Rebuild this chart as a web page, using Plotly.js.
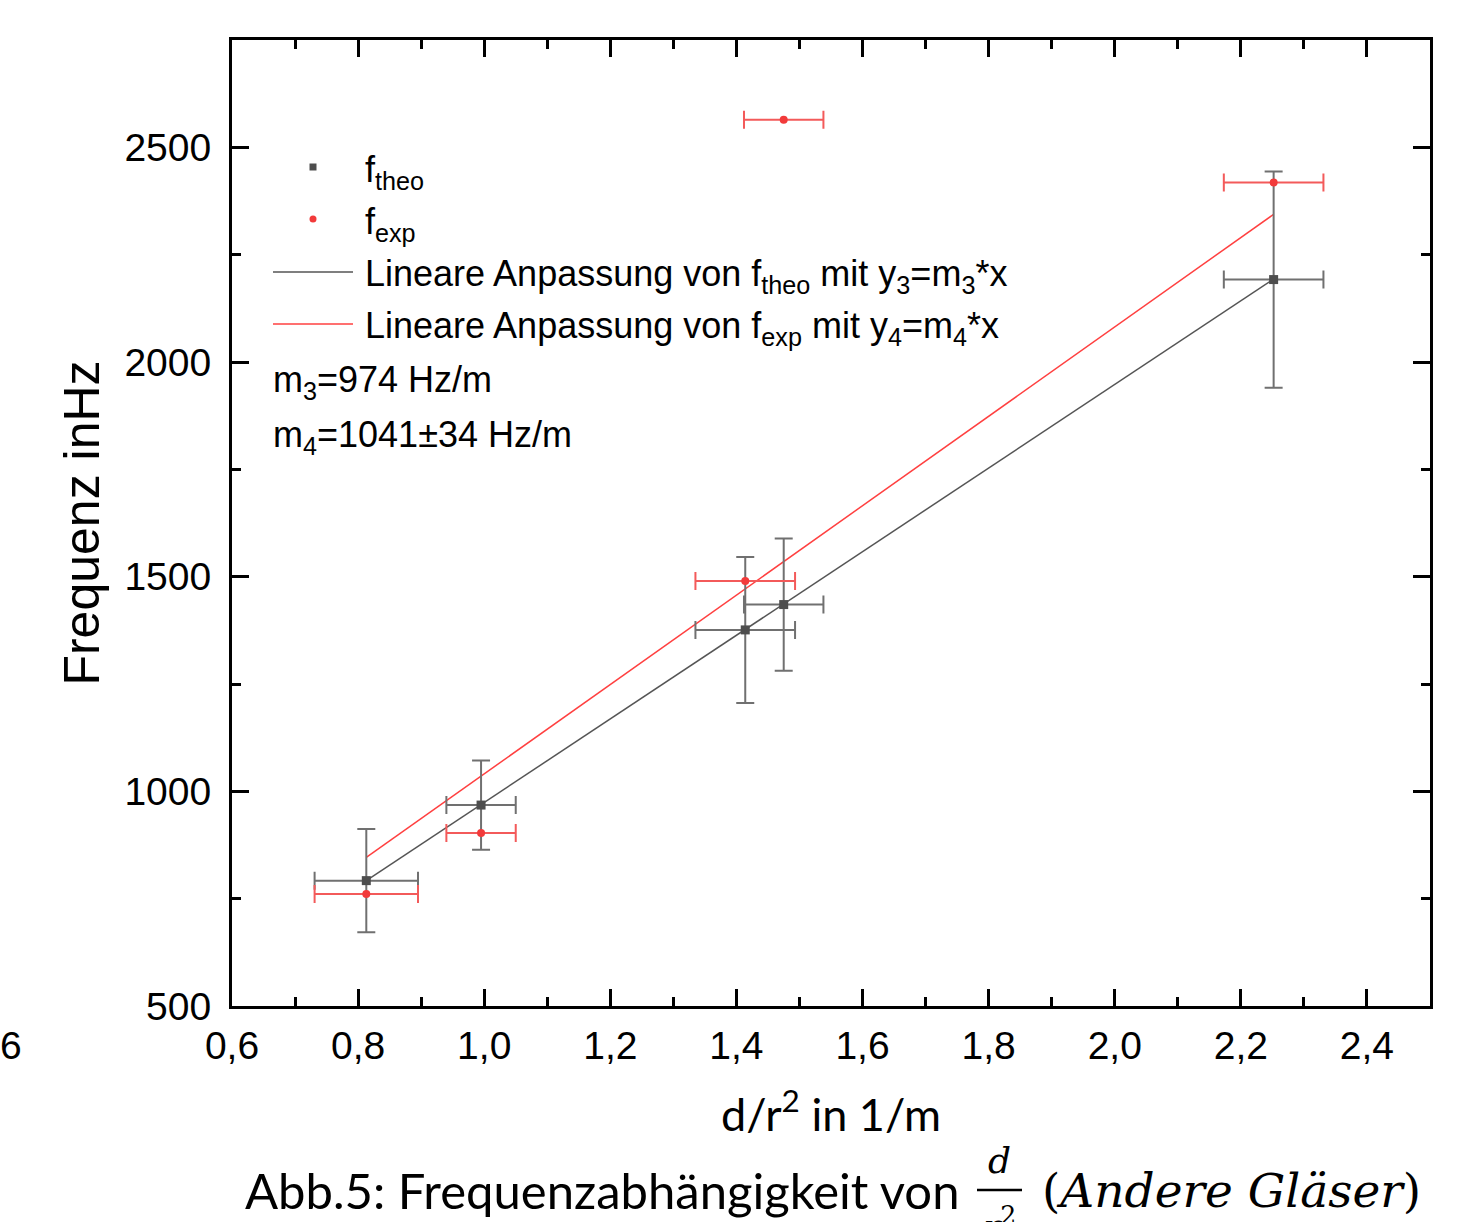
<!DOCTYPE html>
<html>
<head>
<meta charset="utf-8">
<script src="https://cdn.plot.ly/plotly-3.0.1.min.js"></script>
<style>html,body{margin:0;padding:0;background:#fff;}#chart{width:1480px;height:1222px;}</style>
</head>
<body>
<div id="chart"></div>
<script>
// ---- data ----
const xVals      = [0.813, 0.995, 1.414, 1.475, 2.252];
const xErr       = [0.082, 0.055, 0.079, 0.063, 0.079];
const fTheo      = [792, 968, 1376, 1435, 2192];
const fTheoErr   = [120, 104, 170, 154, 252];
const fExp       = [761, 903, 1490, 2564, 2418];
const fitX       = [0.813, 2.252];
const fitTheoY   = [792, 2193];
const fitExpY    = [846, 2344];
const xTickVals  = [0.6, 0.8, 1.0, 1.2, 1.4, 1.6, 1.8, 2.0, 2.2, 2.4];
const yTickVals  = [500, 1000, 1500, 2000, 2500];

// ---- pixel helpers for layout decoration ----
const L = 232, R = 1430, T = 40, B = 1006;
const px = p => (p - L) / (R - L);
const py = p => (B - p) / (B - T);

const GRAY = '#4d4d4d', GRAYERR = '#707070', RED = '#f23a3a', REDERR = '#f35a5a';
const SANS = 'Liberation Sans, Arial, sans-serif';
const CAL = 'Lato, sans-serif';
const SERIF = 'DejaVu Serif, serif';

const traces = [
  {x: fitX, y: fitTheoY, mode: 'lines', line: {color: '#555555', width: 1.5}, showlegend: false, hoverinfo: 'skip'},
  {x: fitX, y: fitExpY, mode: 'lines', line: {color: '#ff4040', width: 1.5}, showlegend: false, hoverinfo: 'skip'},
  {x: xVals, y: fTheo, mode: 'markers', marker: {symbol: 'square', size: 9, color: GRAY},
   error_y: {type: 'data', array: fTheoErr, visible: true, color: GRAYERR, thickness: 2, width: 9},
   error_x: {type: 'data', array: xErr, visible: true, color: GRAYERR, thickness: 2, width: 9},
   showlegend: false},
  {x: xVals, y: fExp, mode: 'markers', marker: {symbol: 'circle', size: 8, color: RED},
   error_x: {type: 'data', array: xErr, visible: true, color: REDERR, thickness: 2, width: 9},
   showlegend: false}
];

const legFont = {family: SANS, size: 36, color: '#000'};
const annotations = [
  {xref: 'paper', yref: 'paper', x: px(363), y: py(172), xanchor: 'left', yanchor: 'middle', text: 'f<sub>theo</sub>', showarrow: false, font: legFont},
  {xref: 'paper', yref: 'paper', x: px(363), y: py(224), xanchor: 'left', yanchor: 'middle', text: 'f<sub>exp</sub>', showarrow: false, font: legFont},
  {xref: 'paper', yref: 'paper', x: px(363), y: py(276), xanchor: 'left', yanchor: 'middle', text: 'Lineare Anpassung von f<sub>theo</sub> mit y<sub>3</sub>=m<sub>3</sub>*x', showarrow: false, font: legFont},
  {xref: 'paper', yref: 'paper', x: px(363), y: py(328), xanchor: 'left', yanchor: 'middle', text: 'Lineare Anpassung von f<sub>exp</sub> mit y<sub>4</sub>=m<sub>4</sub>*x', showarrow: false, font: legFont},
  {xref: 'paper', yref: 'paper', x: px(271), y: py(382), xanchor: 'left', yanchor: 'middle', text: 'm<sub>3</sub>=974 Hz/m', showarrow: false, font: legFont},
  {xref: 'paper', yref: 'paper', x: px(271), y: py(437), xanchor: 'left', yanchor: 'middle', text: 'm<sub>4</sub>=1041±34 Hz/m', showarrow: false, font: legFont},
  // stray tick label fragment at the far left
  {xref: 'paper', yref: 'paper', x: px(-2), y: py(1045), xanchor: 'left', yanchor: 'middle', text: '6', showarrow: false, font: {family: SANS, size: 39, color: '#000'}},
  // caption
  {xref: 'paper', yref: 'paper', x: px(243), y: py(1190), xanchor: 'left', yanchor: 'middle', text: 'Abb.5: Frequenzabhängigkeit von', showarrow: false, font: {family: CAL, size: 49, color: '#000'}},
  {xref: 'paper', yref: 'paper', x: px(999), y: py(1160), xanchor: 'center', yanchor: 'middle', text: '<i>d</i>', showarrow: false, font: {family: SERIF, size: 36, color: '#000'}},
  {xref: 'paper', yref: 'paper', x: px(999), y: py(1224), xanchor: 'center', yanchor: 'middle', text: '<i>r</i><sup>2</sup>', showarrow: false, font: {family: SERIF, size: 36, color: '#000'}},
  {xref: 'paper', yref: 'paper', x: px(1040), y: py(1190), xanchor: 'left', yanchor: 'middle', text: '(<i>Andere Gläser</i>)', showarrow: false, font: {family: SERIF, size: 47, color: '#000'}}
];

const shapes = [
  {type: 'rect', xref: 'paper', yref: 'paper', x0: px(309.5), x1: px(316.5), y0: py(170.5), y1: py(163.5), fillcolor: GRAY, line: {width: 0}},
  {type: 'circle', xref: 'paper', yref: 'paper', x0: px(309.5), x1: px(316.5), y0: py(222.5), y1: py(215.5), fillcolor: RED, line: {width: 0}},
  {type: 'line', xref: 'paper', yref: 'paper', x0: px(273), x1: px(353), y0: py(272), y1: py(272), line: {color: '#555555', width: 1.5}},
  {type: 'line', xref: 'paper', yref: 'paper', x0: px(273), x1: px(353), y0: py(324), y1: py(324), line: {color: '#ff4040', width: 1.5}},
  {type: 'line', xref: 'paper', yref: 'paper', x0: px(977), x1: px(1022), y0: py(1190), y1: py(1190), line: {color: '#000', width: 2.5}}
];

const axisCommon = {
  showline: true, linecolor: '#000', linewidth: 3, mirror: 'ticks',
  ticks: 'inside', ticklen: 17, tickwidth: 3, tickcolor: '#000',
  showgrid: false, zeroline: false,
  tickfont: {family: SANS, size: 39, color: '#000'}
};

const layout = {
  width: 1480, height: 1222,
  paper_bgcolor: '#fff', plot_bgcolor: '#fff',
  margin: {l: L, r: 1480 - R, t: T, b: 1222 - B},
  separators: ',.',
  showlegend: false,
  xaxis: Object.assign({}, axisCommon, {
    range: [0.6, 2.5], tickvals: xTickVals, tickformat: '.1f',
    minor: {ticks: 'inside', ticklen: 9, tickwidth: 3, tickcolor: '#000', dtick: 0.2, tick0: 0.7},
    ticklabelstandoff: 3,
    title: {text: 'd/r<sup>2</sup> in 1/m', font: {family: CAL, size: 45, color: '#000'}, standoff: 34}
  }),
  yaxis: Object.assign({}, axisCommon, {
    range: [500, 2750], tickvals: yTickVals,
    minor: {ticks: 'inside', ticklen: 9, tickwidth: 3, tickcolor: '#000', dtick: 500, tick0: 750},
    ticklabelstandoff: 10,
    title: {text: 'Frequenz inHz', font: {family: SANS, size: 50, color: '#000'}, standoff: 9}
  }),
  annotations: annotations,
  shapes: shapes
};

Plotly.newPlot('chart', traces, layout, {displayModeBar: false, staticPlot: true});
</script>
</body>
</html>
